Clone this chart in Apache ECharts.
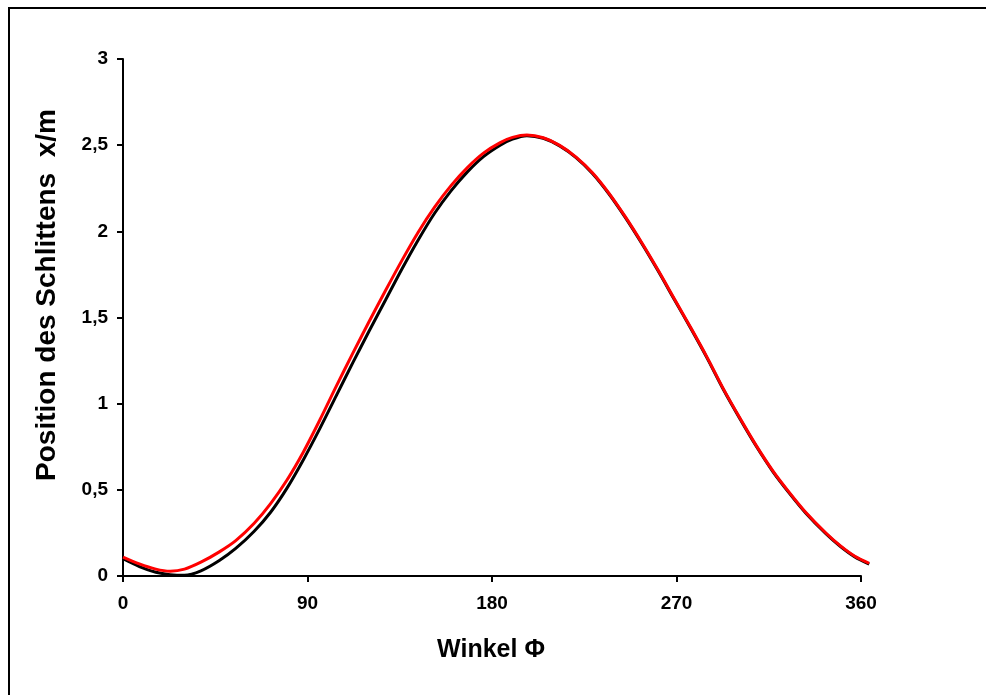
<!DOCTYPE html>
<html>
<head>
<meta charset="utf-8">
<script src="https://cdn.jsdelivr.net/npm/echarts@6/dist/echarts.min.js"></script>
<style>
html,body{margin:0;padding:0;background:#fff;}
#chart{width:986px;height:695px;}
</style>
</head>
<body>
<div id="chart"></div>
<script>
// Angle (degrees) and slider position (m)
var redAngles      = [0, 8, 16, 23, 30, 38, 47, 55, 64, 72, 80, 88, 96, 104, 112, 120, 128, 136, 144, 152, 160, 168, 176, 184, 190, 197,
                      205, 213, 221, 229, 237, 245, 253, 261, 269, 277, 285, 293, 301, 309, 317, 325, 333, 343, 350, 357, 364];
var redPositions   = [0.11, 0.07, 0.04, 0.028, 0.04, 0.08, 0.14, 0.205, 0.306, 0.42, 0.557, 0.72, 0.905, 1.10, 1.29, 1.475, 1.655, 1.83, 1.995, 2.14, 2.265, 2.37, 2.455, 2.515, 2.545, 2.559,
                      2.543, 2.499, 2.431, 2.34, 2.222, 2.085, 1.935, 1.775, 1.607, 1.44, 1.267, 1.083, 0.915, 0.755, 0.61, 0.485, 0.37, 0.248, 0.175, 0.115, 0.074];
var blackAngles    = [0, 8, 16, 23, 30, 38, 47, 55, 64, 72, 80, 88, 96, 104, 112, 120, 128, 136, 144, 152, 160, 168, 176, 184, 190, 197,
                      205, 213, 221, 229, 237, 245, 253, 261, 269, 277, 285, 293, 301, 309, 317, 325, 333, 343, 350, 357, 364];
var blackPositions = [0.10, 0.055, 0.022, 0.008, 0.004, 0.03, 0.09, 0.16, 0.26, 0.37, 0.51, 0.675, 0.855, 1.045, 1.235, 1.42, 1.60, 1.78, 1.95, 2.105, 2.235, 2.345, 2.435, 2.50, 2.535, 2.555,
                      2.540, 2.496, 2.428, 2.336, 2.218, 2.081, 1.931, 1.771, 1.603, 1.436, 1.263, 1.079, 0.911, 0.751, 0.606, 0.481, 0.366, 0.244, 0.171, 0.111, 0.069];
var xTicks = [0, 90, 180, 270, 360];
var yTicks = [0, 0.5, 1, 1.5, 2, 2.5, 3];
var xTitle = 'Winkel \u03A6';
var yTitle = 'Position des Schlittens  x/m';

function pairs(a, b){ return a.map(function(v,i){ return [v, b[i]]; }); }

var font = '"Liberation Sans", Arial, sans-serif';
var gridLeft = 123, gridRight = 125, gridTop = 59, gridBottom = 119;
var W = 986;
var plotW = W - gridLeft - gridRight;
var dataMax = 365; // curve runs a little past the 360 tick
var gridRight2 = W - gridLeft - plotW * (dataMax - xTicks[0]) / (xTicks[xTicks.length-1] - xTicks[0]);

var chart = echarts.init(document.getElementById('chart'), null, {renderer:'canvas'});
chart.setOption({
  animation: false,
  backgroundColor: '#fff',
  grid: [
    {left: gridLeft, right: gridRight, top: gridTop, bottom: gridBottom},
    {left: gridLeft, right: gridRight2, top: gridTop, bottom: gridBottom}
  ],
  xAxis: [{
    gridIndex: 0, type: 'value', min: xTicks[0], max: xTicks[xTicks.length-1], interval: 90,
    axisLine: {show: true, onZero: false, lineStyle: {color: '#000', width: 2}},
    axisTick: {show: true, inside: false, length: 6, lineStyle: {color: '#000', width: 2}},
    axisLabel: {color: '#000', fontSize: 19, fontWeight: 'bold', fontFamily: font, margin: 18},
    splitLine: {show: false}
  }, {
    gridIndex: 1, type: 'value', min: xTicks[0], max: dataMax, show: false, splitLine: {show: false}
  }],
  yAxis: [{
    gridIndex: 0, type: 'value', min: yTicks[0], max: yTicks[yTicks.length-1], interval: 0.5,
    axisLine: {show: true, onZero: false, lineStyle: {color: '#000', width: 2}},
    axisTick: {show: true, inside: false, length: 6, lineStyle: {color: '#000', width: 2}},
    axisLabel: {color: '#000', fontSize: 19, fontWeight: 'bold', fontFamily: font, margin: 15,
      formatter: function(v){ return String(v).replace('.', ','); }},
    splitLine: {show: false}
  }, {
    gridIndex: 1, type: 'value', min: yTicks[0], max: yTicks[yTicks.length-1], show: false, splitLine: {show: false}
  }],
  graphic: [
    {type: 'rect', shape: {x: 9, y: 8, width: 1200, height: 1200}, style: {fill: 'none', stroke: '#000', lineWidth: 2}, z: 100},
    {type: 'text', x: 491, y: 650, style: {text: xTitle, font: 'bold 25px ' + font, fill: '#000', textAlign: 'center', textVerticalAlign: 'middle'}},
    {type: 'text', x: 47, y: 295, rotation: Math.PI/2, style: {text: yTitle, font: 'bold 28px ' + font, fill: '#000', textAlign: 'center', textVerticalAlign: 'middle'}}
  ],
  series: [
    {type: 'line', xAxisIndex: 1, yAxisIndex: 1, data: pairs(blackAngles, blackPositions), smooth: 0.3, showSymbol: false, clip: false,
      lineStyle: {color: '#000', width: 3}, z: 2},
    {type: 'line', xAxisIndex: 1, yAxisIndex: 1, data: pairs(redAngles, redPositions), smooth: 0.3, showSymbol: false, clip: false,
      lineStyle: {color: '#ff0000', width: 3}, z: 3}
  ]
});
</script>
</body>
</html>
